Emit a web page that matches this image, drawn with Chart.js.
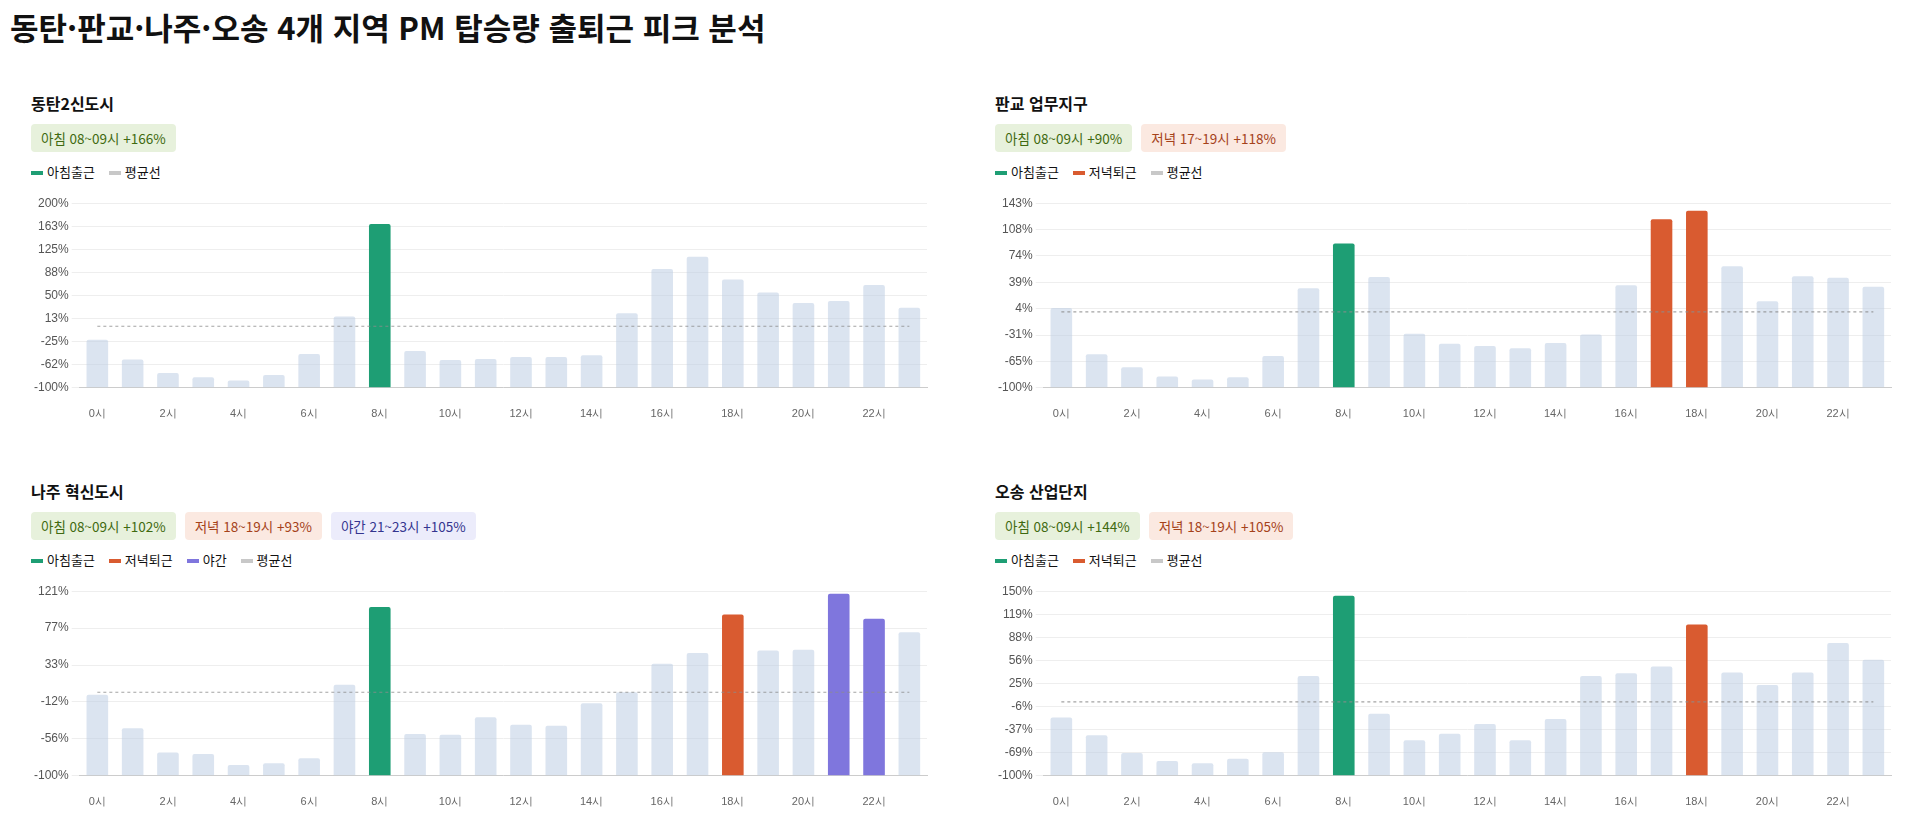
<!DOCTYPE html>
<html lang="ko">
<head>
<meta charset="utf-8">
<script src="https://cdn.jsdelivr.net/npm/chart.js@4"></script>
<style>
  body { margin: 0; background: #fff; font-family: "Noto Sans CJK KR", "Noto Sans", sans-serif; color: #111; }
  h1 { margin: 0; position: absolute; left: 10px; top: 4px; font-size: 31px; font-weight: 700; }
  .grid { position: absolute; left: 31px; top: 88px; width: 1864px; display: grid; grid-template-columns: 900px 900px; column-gap: 64px; row-gap: 14px; }
  .panel { height: 374px; }
  .panel h3 { margin: 0; font-size: 16px; font-weight: 700; height: 30px; line-height: 30px; }
  .badges { display: flex; gap: 9px; margin-top: 6px; height: 28px; }
  .badge { font-size: 13.5px; padding: 0 10px; line-height: 28px; border-radius: 4px; }
  .b-am { background: #e7f1dc; color: #3f6a10; }
  .b-pm { background: #fbe9e1; color: #a5421a; }
  .b-nt { background: #ececfb; color: #34358f; }
  .legend { display: flex; gap: 14px; font-size: 13px; margin-top: 9px; height: 20px; align-items: center; }
  .legend span.sw { display: inline-block; width: 12px; height: 4px; margin-right: 4px; vertical-align: middle; }
  .box { position: relative; height: 240px; margin-top: 12px; }
</style>
</head>
<body>
<h1>동탄·판교·나주·오송 4개 지역 PM 탑승량 출퇴근 피크 분석</h1>
<div class="grid" id="grid"></div>
<script>
const hours = ['0시','1시','2시','3시','4시','5시','6시','7시','8시','9시','10시','11시','12시','13시','14시','15시','16시','17시','18시','19시','20시','21시','22시','23시'];

const dongtanVals = [-22, -54, -76, -83, -88, -79, -45, 16, 166, -40, -55, -53, -50, -50, -47, 21, 93, 113, 76, 55, 38, 41, 67, 30];
const pangyoVals = [5, -56, -73, -85, -89, -86, -58, 31, 90, 46, -29, -42, -45, -48, -41, -30, 35, 122, 133, 60, 14, 47, 45, 33];
const najuVals = [-3, -43, -72, -74, -87, -85, -79, 9, 102, -50, -51, -30, -39, -40, -13, 0, 34, 47, 93, 50, 51, 118, 88, 72];
const osongVals = [-21, -45, -69, -80, -83, -77, -68, 35, 144, -16, -52, -43, -30, -52, -23, 35, 39, 48, 105, 40, 23, 40, 80, 57];

const yRanges = [[-100, 200], [-100, 143], [-100, 121], [-100, 150]];
const yTickCounts = [9, 8, 6, 9];
const avgLevel = [0, 0, 0, 0];

const amHours = [[8], [8], [8], [8]];
const pmHours = [[], [17, 18], [18], [18]];
const ntHours = [[], [], [21, 22], []];

const titles = ['동탄2신도시', '판교 업무지구', '나주 혁신도시', '오송 산업단지'];
const badges = [
  [['am', '아침 08~09시 +166%']],
  [['am', '아침 08~09시 +90%'], ['pm', '저녁 17~19시 +118%']],
  [['am', '아침 08~09시 +102%'], ['pm', '저녁 18~19시 +93%'], ['nt', '야간 21~23시 +105%']],
  [['am', '아침 08~09시 +144%'], ['pm', '저녁 18~19시 +105%']]
];
const allVals = [dongtanVals, pangyoVals, najuVals, osongVals];

const C_AM = '#1e9e74', C_PM = '#d95b30', C_NT = '#7f76dd', C_BASE = 'rgba(190,206,228,0.55)', C_AVG = '#c8c8c8';

const grid = document.getElementById('grid');
titles.forEach((t, i) => {
  const p = document.createElement('div');
  p.className = 'panel';
  let leg = '<span><span class="sw" style="background:' + C_AM + '"></span>아침출근</span>';
  if (pmHours[i].length) leg += '<span><span class="sw" style="background:' + C_PM + '"></span>저녁퇴근</span>';
  if (ntHours[i].length) leg += '<span><span class="sw" style="background:' + C_NT + '"></span>야간</span>';
  leg += '<span><span class="sw" style="background:' + C_AVG + '"></span>평균선</span>';
  p.innerHTML = '<h3>' + t + '</h3><div class="badges">' +
    badges[i].map(b => '<span class="badge b-' + b[0] + '">' + b[1] + '</span>').join('') +
    '</div><div class="legend">' + leg + '</div><div class="box"><canvas id="c' + i + '"></canvas></div>';
  grid.appendChild(p);

  const colors = hours.map((h, k) => amHours[i].includes(k) ? C_AM : pmHours[i].includes(k) ? C_PM : ntHours[i].includes(k) ? C_NT : C_BASE);
  new Chart(document.getElementById('c' + i), {
    data: {
      labels: hours,
      datasets: [
        { type: 'bar', data: allVals[i], backgroundColor: colors, borderRadius: 2, base: yRanges[i][0],
          categoryPercentage: 0.68, barPercentage: 0.9, order: 2 },
        { type: 'line', data: hours.map(() => avgLevel[i]), borderColor: 'rgba(140,140,140,0.8)', borderWidth: 1.2,
          borderDash: [3, 3], pointRadius: 0, order: 1 }
      ]
    },
    options: {
      responsive: true, maintainAspectRatio: false, animation: false,
      layout: { padding: { top: 8, right: 4 } },
      plugins: { legend: { display: false }, tooltip: { enabled: false } },
      scales: {
        x: {
          grid: { display: false },
          border: { color: '#ccc' },
          ticks: { autoSkip: false, maxRotation: 0, padding: 12, color: '#666', font: { size: 11 },
            callback: (v, k) => k % 2 === 0 ? hours[k] : '' }
        },
        y: {
          min: yRanges[i][0], max: yRanges[i][1],
          grid: { color: '#eee' }, border: { display: false },
          ticks: { count: yTickCounts[i], color: '#555', font: { size: 12 }, callback: v => Math.round(v) + '%' }
        }
      }
    }
  });
});
</script>
</body>
</html>
